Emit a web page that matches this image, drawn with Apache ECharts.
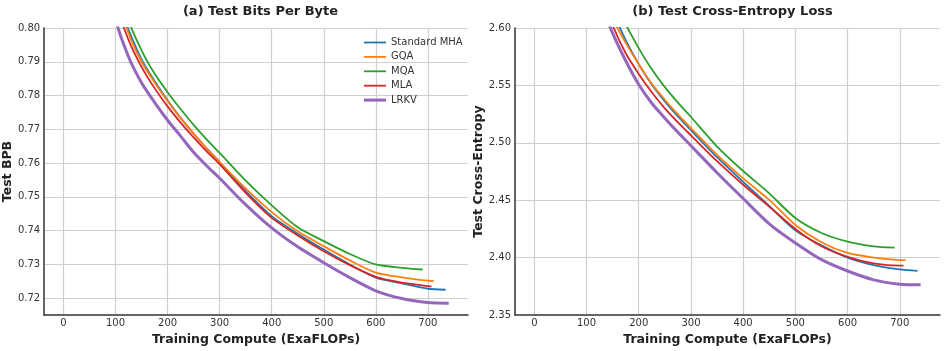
<!DOCTYPE html>
<html>
<head>
<meta charset="utf-8">
<script src="https://cdn.jsdelivr.net/npm/echarts@6/dist/echarts.min.js"></script>
<style>
html,body{margin:0;padding:0;background:#fff;}
#chart{width:946px;height:351px;}
</style>
</head>
<body>
<div id="chart"></div>
<script>
// ---- data ----
const seriesNames = ['Standard MHA', 'GQA', 'MQA', 'MLA', 'LRKV'];
const seriesColors = ['#1f77b4', '#ff7f0e', '#2ca02c', '#d62728', '#9467bd'];
const xTickLabels = [0, 100, 200, 300, 400, 500, 600, 700];
const bpbTicks = ['0.72','0.73','0.74','0.75','0.76','0.77','0.78','0.79','0.80'];
const ceTicks = ['2.35','2.40','2.45','2.50','2.55','2.60'];

const xBase = [0, 50, 100, 125, 150, 175, 200, 225, 250, 275, 300, 350, 400, 450, 500, 550, 600, 650];

const x_MHA  = xBase.concat([700, 734]);
const x_GQA  = xBase.concat([700, 711]);
const x_MQA  = xBase.concat([690]);
const x_MLA  = xBase.concat([700, 707]);
const x_LRKV = xBase.concat([700, 740]);

// (a) Test bits per byte
const bpb_MHA  = [0.96, 0.87, 0.81, 0.7995, 0.7907, 0.7843, 0.7786, 0.7734, 0.7687, 0.7644, 0.7603, 0.7518, 0.7443, 0.7391, 0.7344, 0.7300, 0.7261, 0.7244, 0.7228, 0.7225];
const bpb_GQA  = [0.96, 0.87, 0.812, 0.7985, 0.7900, 0.7839, 0.7784, 0.7733, 0.7688, 0.7643, 0.7603, 0.7525, 0.7455, 0.7398, 0.7354, 0.7312, 0.7276, 0.7262, 0.7252, 0.7251];
const bpb_MQA  = [0.98, 0.89, 0.825, 0.8025, 0.7934, 0.7865, 0.7810, 0.7760, 0.7713, 0.7670, 0.7630, 0.7548, 0.7475, 0.7410, 0.7369, 0.7331, 0.7300, 0.7290, 0.7285];
const bpb_MLA  = [0.955, 0.865, 0.808, 0.7965, 0.7885, 0.7822, 0.7768, 0.7720, 0.7676, 0.7635, 0.7597, 0.7512, 0.7438, 0.7386, 0.7339, 0.7298, 0.7263, 0.7246, 0.7236, 0.7235];
const bpb_LRKV = [0.95, 0.86, 0.803, 0.7915, 0.7838, 0.7780, 0.7727, 0.7680, 0.7632, 0.7592, 0.7555, 0.7477, 0.7408, 0.7352, 0.7305, 0.7261, 0.7222, 0.7199, 0.7187, 0.7185];

// (b) Test cross-entropy loss
const ce_MHA  = [2.93, 2.79, 2.69, 2.65, 2.615, 2.5895, 2.5685, 2.5508, 2.5360, 2.5230, 2.5110, 2.4875, 2.4660, 2.4450, 2.4238, 2.4107, 2.4001, 2.3936, 2.3898, 2.3885];
const ce_GQA  = [2.93, 2.79, 2.69, 2.645, 2.6085, 2.587, 2.5685, 2.5515, 2.5375, 2.5248, 2.5128, 2.4895, 2.4690, 2.4503, 2.4285, 2.4135, 2.4041, 2.4001, 2.3979, 2.3978];
const ce_MQA  = [2.95, 2.81, 2.705, 2.665, 2.63, 2.6035, 2.5825, 2.5640, 2.5485, 2.5350, 2.5225, 2.4968, 2.4755, 2.4560, 2.4345, 2.4215, 2.4140, 2.4099, 2.4087];
const ce_MLA  = [2.92, 2.78, 2.675, 2.636, 2.6025, 2.5780, 2.5600, 2.5440, 2.5300, 2.5178, 2.5065, 2.4840, 2.4635, 2.4445, 2.4250, 2.4099, 2.4007, 2.395, 2.393, 2.393];
const ce_LRKV = [2.90, 2.76, 2.66, 2.625, 2.5955, 2.5715, 2.5508, 2.5345, 2.5215, 2.5092, 2.4975, 2.4740, 2.4515, 2.4295, 2.4128, 2.3983, 2.3884, 2.3807, 2.3769, 2.3764];

// ---- build ----
const xs = [x_MHA, x_GQA, x_MQA, x_MLA, x_LRKV];
const bpbYs = [bpb_MHA, bpb_GQA, bpb_MQA, bpb_MLA, bpb_LRKV];
const ceYs = [ce_MHA, ce_GQA, ce_MQA, ce_MLA, ce_LRKV];
const widths = [1.8, 1.8, 1.8, 1.8, 3];
const FONT = 'DejaVu Sans';

function pairs(x, y) { return x.map((v, i) => [v, y[i]]); }

const series = [];
[bpbYs, ceYs].forEach((ys, g) => {
  seriesNames.forEach((name, i) => {
    series.push({
      name: name,
      type: 'line',
      xAxisIndex: g,
      yAxisIndex: g,
      data: pairs(xs[i], ys[i]),
      showSymbol: false,
      symbol: 'none',
      smooth: 0.25,
      clip: true,
      lineStyle: { color: seriesColors[i], width: widths[i] },
      itemStyle: { color: seriesColors[i] },
      z: 2 + i,
      animation: false
    });
  });
});

function xAxis(idx) {
  return {
    gridIndex: idx, type: 'value', min: -37, max: 777, splitNumber: 8,
    name: 'Training Compute (ExaFLOPs)', nameLocation: 'middle', nameGap: 14,
    nameTextStyle: { fontFamily: FONT, fontWeight: 'bold', fontSize: 12.5, color: '#222' },
    axisLine: { show: true, onZero: false, lineStyle: { color: '#333', width: 1.5 } },
    axisTick: { show: false },
    axisLabel: {
      fontFamily: FONT, fontSize: 10, color: '#333', margin: 3,
      showMinLabel: false, showMaxLabel: false,
      formatter: v => (xTickLabels.indexOf(Math.round(v)) >= 0 && Math.abs(v - Math.round(v)) < 1e-6) ? String(Math.round(v)) : ''
    },
    splitLine: { show: true, showMinLine: false, showMaxLine: false, lineStyle: { color: '#cfcfcf', width: 1.2 } }
  };
}

const legendData = seriesNames.map((n, i) => ({
  name: n,
  icon: i === 4 ? 'path://M0,0H22V3H0Z' : 'path://M0,0H22V1.8H0Z'
}));

const option = {
  backgroundColor: '#fff',
  animation: false,
  title: [
    { text: '(a) Test Bits Per Byte', left: 255.5, top: 0, textAlign: 'center',
      textStyle: { fontFamily: FONT, fontWeight: 'bold', fontSize: 13, color: '#222' } },
    { text: '(b) Test Cross-Entropy Loss', left: 727.5, top: 0, textAlign: 'center',
      textStyle: { fontFamily: FONT, fontWeight: 'bold', fontSize: 13, color: '#222' } }
  ],
  legend: {
    data: legendData, orient: 'vertical', left: 359, top: 32.5,
    itemWidth: 22, itemHeight: 10, itemGap: 4.4,
    textStyle: { fontFamily: FONT, fontSize: 10, color: '#333' }
  },
  grid: [
    { left: 43, top: 28, width: 425, height: 290 },
    { left: 515, top: 28, width: 425, height: 291 }
  ],
  xAxis: [xAxis(0), xAxis(1)],
  yAxis: [
    {
      gridIndex: 0, type: 'value', min: 0.715, max: 0.80, splitNumber: 8,
      name: 'Test BPB', nameLocation: 'middle', nameGap: 19, nameRotate: 90,
      nameTextStyle: { fontFamily: FONT, fontWeight: 'bold', fontSize: 12.5, color: '#222' },
      axisLine: { show: true, onZero: false, lineStyle: { color: '#333', width: 1.5 } },
      axisTick: { show: false },
      axisLabel: {
        fontFamily: FONT, fontSize: 10, color: '#333', margin: 4, showMinLabel: false,
        formatter: v => { const s = v.toFixed(2); return bpbTicks.indexOf(s) >= 0 && Math.abs(v - parseFloat(s)) < 1e-6 ? s : ''; }
      },
      splitLine: { show: true, showMinLine: false, lineStyle: { color: '#cfcfcf', width: 1.2 } }
    },
    {
      gridIndex: 1, type: 'value', min: 2.35, max: 2.60, interval: 0.05,
      name: 'Test Cross-Entropy', nameLocation: 'middle', nameGap: 20, nameRotate: 90,
      nameTextStyle: { fontFamily: FONT, fontWeight: 'bold', fontSize: 12.5, color: '#222' },
      axisLine: { show: true, onZero: false, lineStyle: { color: '#333', width: 1.5 } },
      axisTick: { show: false },
      axisLabel: {
        fontFamily: FONT, fontSize: 10, color: '#333', margin: 4,
        formatter: v => { const s = v.toFixed(2); return ceTicks.indexOf(s) >= 0 ? s : ''; }
      },
      splitLine: { show: true, showMinLine: false, lineStyle: { color: '#cfcfcf', width: 1.2 } }
    }
  ],
  series: series
};

const chart = echarts.init(document.getElementById('chart'), null, { renderer: 'canvas' });
chart.setOption(option);
</script>
</body>
</html>
